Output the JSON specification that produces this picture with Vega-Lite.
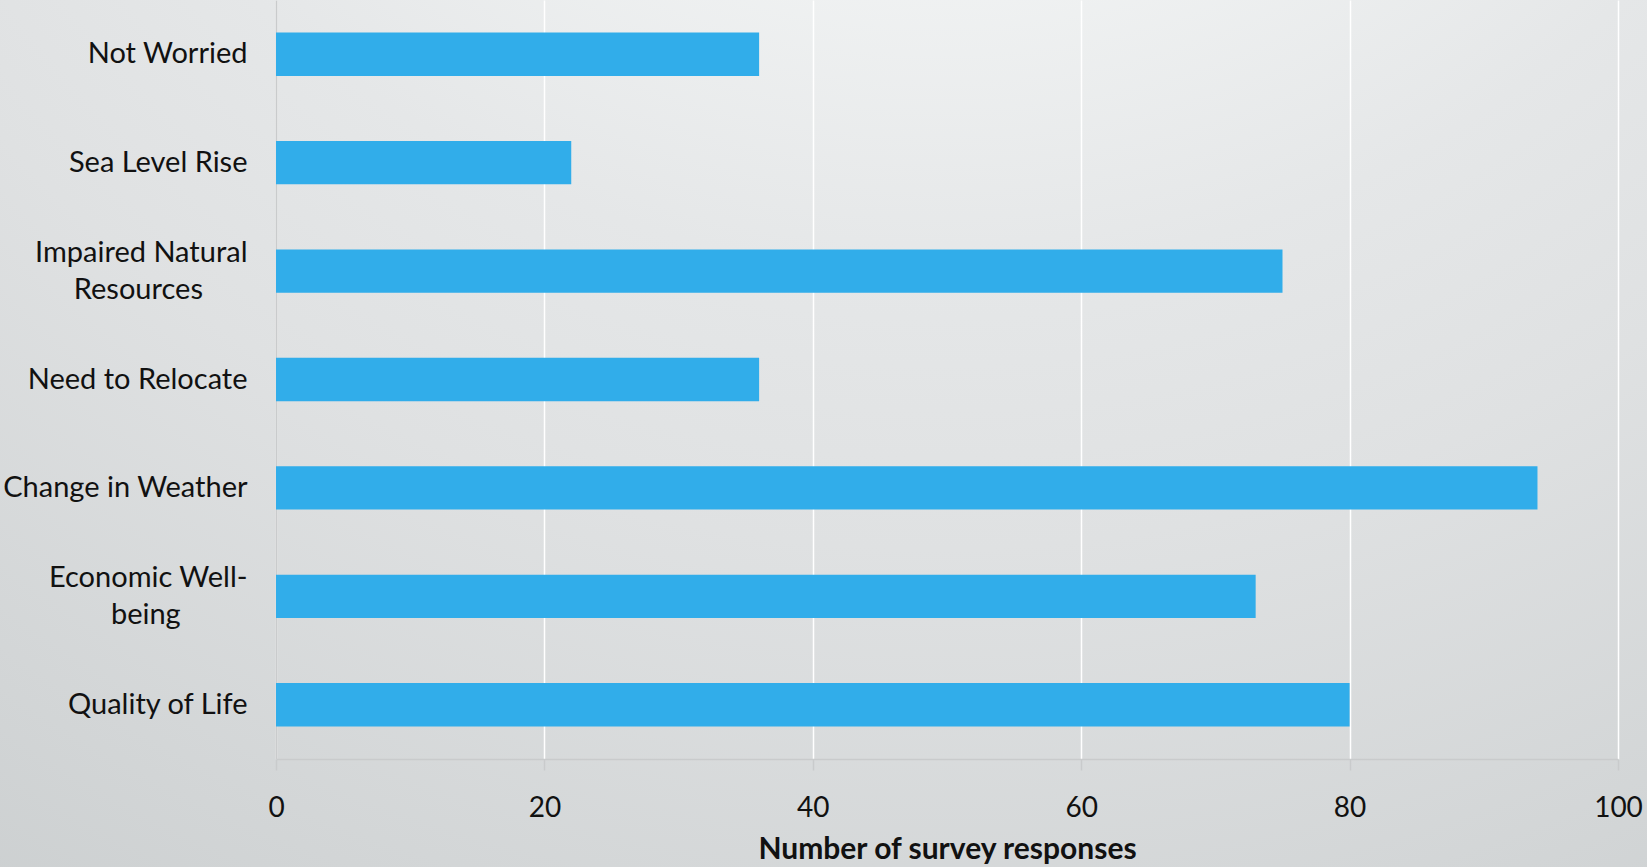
{
  "$schema": "https://vega.github.io/schema/vega-lite/v6.json",
  "width": 1647,
  "height": 867,
  "padding": 0,
  "autosize": {"type": "none"},
  "background": "#dcdfe0",
  "config": {
    "font": "Lato",
    "view": {
      "stroke": null,
      "fill": {
        "gradient": "radial",
        "x1": 0.57, "y1": -0.2, "r1": 0,
        "x2": 0.57, "y2": -0.2, "r2": 1.4,
        "stops": [
          {"offset": 0, "color": "#f8f9f9"},
          {"offset": 0.24, "color": "#f5f7f7"},
          {"offset": 0.43, "color": "#e5e7e8"},
          {"offset": 0.55, "color": "#dfe1e2"},
          {"offset": 0.9, "color": "#c6cacb"},
          {"offset": 1, "color": "#bec2c3"}
        ]
      }
    }
  },
  "data": {
    "values": [
      {"concern": "Not Worried", "responses": 36},
      {"concern": "Sea Level Rise", "responses": 22},
      {"concern": "Impaired Natural Resources", "responses": 75},
      {"concern": "Need to Relocate", "responses": 36},
      {"concern": "Change in Weather", "responses": 94},
      {"concern": "Economic Well-being", "responses": 73},
      {"concern": "Quality of Life", "responses": 80}
    ]
  },
  "encoding": {
    "y": {
      "field": "concern",
      "type": "nominal",
      "sort": null,
      "scale": {"range": [0, 759], "paddingInner": 0.6, "paddingOuter": 0.3},
      "axis": {
        "title": null,
        "offset": -276,
        "grid": false,
        "ticks": false,
        "domainColor": "#c9cbcc",
        "domainWidth": 1.5,
        "labelPadding": 29,
        "labelFontSize": 29,
        "labelColor": "#111111",
        "labelLineHeight": 37,
        "labelLimit": 0,
        "labelOffset": {"condition": {"test": "datum.value == 'Impaired Natural Resources' || datum.value == 'Economic Well-being'", "value": -18}, "value": 0},
        "labelExpr": "datum.value == 'Impaired Natural Resources' ? ['Impaired Natural', 'Resources\u00a0\u00a0\u00a0\u00a0\u00a0\u00a0\u200b'] : datum.value == 'Economic Well-being' ? ['Economic Well-', 'being\u00a0\u00a0\u00a0\u00a0\u00a0\u00a0\u00a0\u00a0\u00a0\u200b'] : datum.value"
      }
    }
  },
  "layer": [
    {
      "mark": {"type": "bar", "opacity": 0},
      "encoding": {
        "x": {
          "field": "responses",
          "type": "quantitative",
          "scale": {"domain": [0, 100], "range": [276, 1618], "nice": false},
          "axis": {
            "orient": "top",
            "values": [0, 20, 40, 60, 80, 100],
            "grid": true,
            "gridColor": "#ffffff",
            "gridWidth": 1.5,
            "domain": false,
            "ticks": false,
            "labels": false,
            "title": null
          }
        }
      }
    },
    {
      "mark": {"type": "bar", "color": "#31ADEA"},
      "encoding": {
        "x": {
          "field": "responses",
          "type": "quantitative",
          "scale": {"domain": [0, 100], "range": [276, 1618], "nice": false},
          "axis": {
            "orient": "bottom",
            "values": [0, 20, 40, 60, 80, 100],
            "offset": -108,
            "grid": false,
            "domainColor": "#c9cbcc",
            "domainWidth": 1.5,
            "tickColor": "#c9cbcc",
            "tickSize": 11,
            "tickWidth": 1.5,
            "labelFlush": false,
            "labelFontSize": 28,
            "labelColor": "#111111",
            "labelPadding": 24,
            "title": "Number of survey responses",
            "titleFontSize": 30,
            "titleFontWeight": "bold",
            "titleColor": "#111111",
            "titlePadding": 12
          }
        }
      }
    }
  ],
  "resolve": {"axis": {"x": "independent"}}
}
